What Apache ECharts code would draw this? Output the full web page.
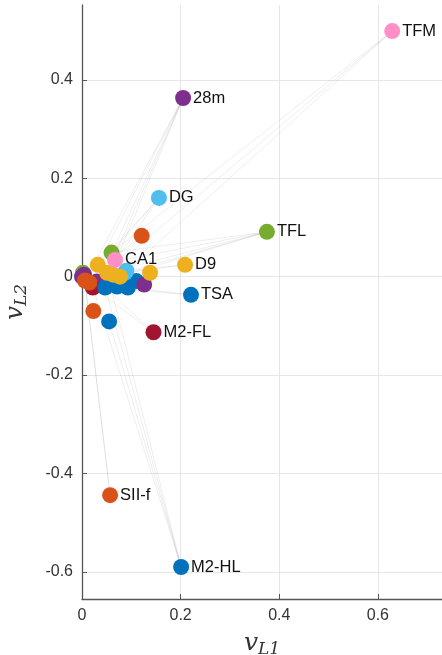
<!DOCTYPE html>
<html>
<head>
<meta charset="utf-8">
<script src="https://cdn.jsdelivr.net/npm/echarts@6/dist/echarts.min.js"></script>
<style>
  html, body { margin: 0; padding: 0; background: #fff; }
  #main { width: 442px; height: 655px; }
</style>
</head>
<body>
<div id="main"></div>
<script>
// points: labelled outliers first, then the cluster round the origin
var names  = ['TFM', '28m', 'DG', 'TFL', 'D9', 'CA1', 'TSA', 'M2-FL', 'SII-f', 'M2-HL',
              '', '', '', '', '', '', '', '', '', '', '', '', '', '', '', '', '', '', '', '', '', '', '', ''];
var vL1    = [0.629, 0.205, 0.156, 0.375, 0.209, 0.067, 0.221, 0.145, 0.057, 0.201,
              0.121, 0.060, 0.138, 0.126, 0.023, 0.055, 0.032, 0.051, 0.087, 0.087,
              0.110, 0.047, 0.006, 0.000, 0.004, 0.022, 0.002, 0.093, 0.077, 0.090,
              0.071, 0.063, 0.015, 0.030];
var vL2    = [0.499, 0.363, 0.160, 0.091, 0.024, 0.034, -0.037, -0.113, -0.444, -0.590,
              0.083, 0.049, 0.008, -0.016, -0.070, -0.091, 0.024, 0.008, 0.008, -0.010,
              -0.009, -0.022, -0.008, 0.000, 0.004, -0.022, 0.008, -0.022, 0.000, 0.012,
              -0.020, 0.004, -0.012, -0.010];
var groups = ['pink', 'purple', 'lightblue', 'green', 'yellow', 'pink', 'blue', 'darkred', 'orange', 'blue',
              'orange', 'green', 'yellow', 'purple', 'orange', 'blue', 'yellow', 'yellow', 'lightblue', 'blue',
              'blue', 'blue', 'orange', 'purple', 'purple', 'darkred', 'green', 'blue', 'yellow', 'lightblue',
              'blue', 'yellow', 'orange', 'purple'];

// faint links between points (index pairs)
var edgeFrom = [0, 0, 0, 1, 1, 1, 1, 1, 2, 2, 2, 3, 3, 3, 3, 3, 4, 4, 6, 6, 7, 7, 8, 8, 9, 9, 9, 9, 10, 10];
var edgeTo   = [11, 17, 18, 16, 17, 11, 21, 22, 17, 11, 16, 17, 18, 11, 28, 16, 17, 18, 21, 27, 21, 25, 22, 24, 21, 15, 25, 17, 22, 17];

var yTicks = [-0.6, -0.4, -0.2, 0, 0.2, 0.4];

var palette = {
    blue: '#0072BD',
    orange: '#D95319',
    yellow: '#EDB120',
    purple: '#7E2F8E',
    green: '#77AC30',
    lightblue: '#4DBEEE',
    darkred: '#A2142F',
    pink: '#FF8FC4'
};

// back-to-front drawing order of the cluster, then the labelled points
var order = [26, 24, 23, 33, 25, 32, 21, 30, 27, 19, 20, 29, 18, 13, 12, 28, 31, 17, 16, 22, 14, 15, 10, 11,
             0, 1, 2, 3, 4, 5, 6, 7, 8, 9];

var pts = [];
for (var k = 0; k < order.length; k++) {
    var j = order[k];
    pts.push({
        value: [vL1[j], vL2[j]],
        name: names[j],
        itemStyle: { color: palette[groups[j]] }
    });
}

var links = [];
for (var e = 0; e < edgeFrom.length; e++) {
    var a = edgeFrom[e], b = edgeTo[e];
    links.push({ coords: [[vL1[a], vL2[a]], [vL1[b], vL2[b]]] });
}

var chart = echarts.init(document.getElementById('main'));

var labelFont = 'Liberation Sans, Helvetica, Arial, sans-serif';
var axisName = function () {
    return {
        rich: {
            v: { fontFamily: 'DejaVu Serif', fontStyle: 'italic', fontSize: 25, color: '#333' },
            s: { fontFamily: 'DejaVu Serif', fontStyle: 'italic', fontSize: 17, color: '#333', padding: [12, 0, 0, 0] }
        }
    };
};
var tickFmt = function (v) { return v === 0 ? '0' : String(+v.toFixed(1)); };

var option = {
    animation: false,
    grid: { left: 82, top: 5, right: 0, bottom: 56, containLabel: false, outerBoundsMode: 'none' },
    xAxis: {
        type: 'value',
        min: 0,
        max: 0.73,
        interval: 0.2,
        name: '{v|v}{s|L1}',
        nameLocation: 'middle',
        nameGap: 30,
        nameTextStyle: axisName(),
        axisLine: { show: true, onZero: false, lineStyle: { color: '#555', width: 1.3 } },
        axisTick: { show: true, inside: true, length: 5, lineStyle: { color: '#555' } },
        axisLabel: {
            color: '#333', fontSize: 16, fontFamily: labelFont, margin: 9,
            showMaxLabel: false,
            formatter: tickFmt
        },
        splitLine: { show: true, lineStyle: { color: '#e6e6e6', width: 1 } }
    },
    yAxis: {
        type: 'value',
        min: -0.655,
        max: 0.552,
        name: '{v|v}{s|L2}',
        nameLocation: 'middle',
        nameGap: 52,
        nameRotate: 90,
        nameTextStyle: axisName(),
        axisLine: { show: true, onZero: false, lineStyle: { color: '#555', width: 1.3 } },
        axisTick: { show: true, inside: true, length: 5, customValues: yTicks, lineStyle: { color: '#555' } },
        axisLabel: {
            color: '#333', fontSize: 16, fontFamily: labelFont, margin: 9,
            customValues: yTicks,
            formatter: tickFmt
        },
        splitLine: { show: true, lineStyle: { color: '#e6e6e6', width: 1 } }
    },
    series: [
        {
            type: 'lines',
            coordinateSystem: 'cartesian2d',
            silent: true,
            z: 1,
            lineStyle: { color: 'rgba(0,0,0,0.07)', width: 1, opacity: 1 },
            data: links
        },
        {
            type: 'scatter',
            symbolSize: 16,
            z: 2,
            itemStyle: { opacity: 1 },
            label: {
                show: true,
                position: 'right',
                distance: 2,
                color: '#111',
                fontSize: 16.5,
                fontFamily: labelFont,
                formatter: '{b}'
            },
            labelLayout: { hideOverlap: false },
            data: pts
        }
    ]
};

chart.setOption(option);
</script>
</body>
</html>
